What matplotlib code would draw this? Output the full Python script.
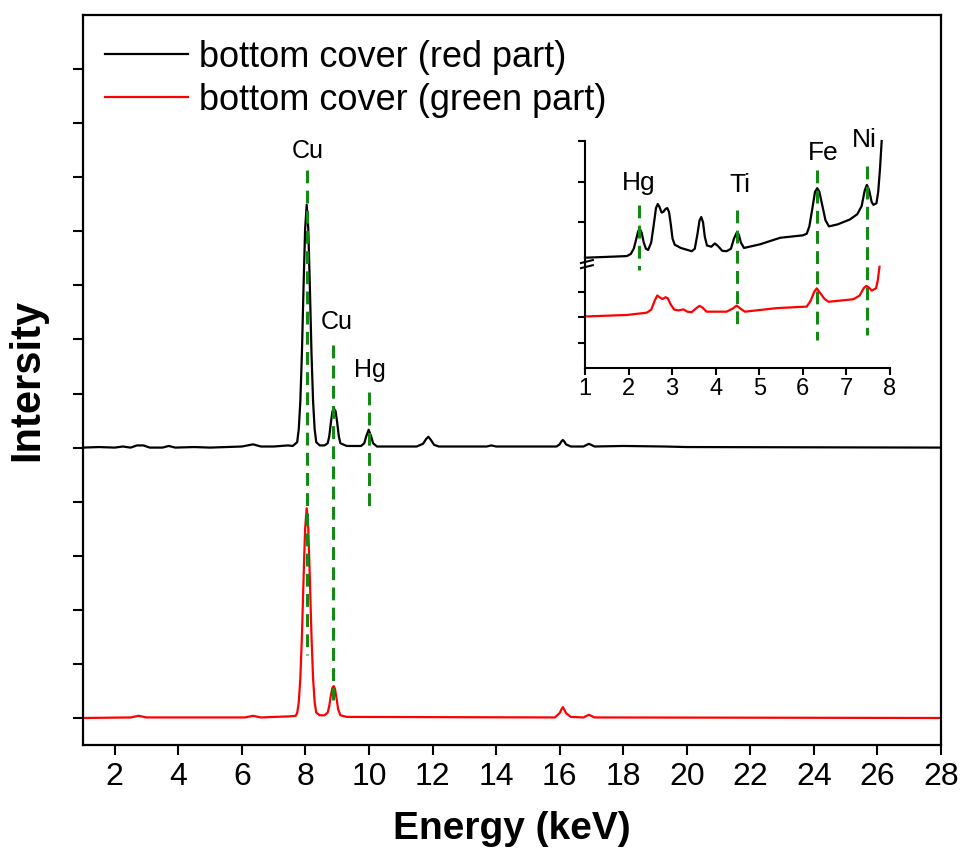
import matplotlib
matplotlib.use("Agg")
import matplotlib.pyplot as plt

plt.rcParams['font.family'] = ['Liberation Sans', 'DejaVu Sans']

# main spectra (energy keV, intensity, arbitrary units; black is offset by 5)
e_red_part = [1.0, 1.5, 2.0, 2.25, 2.5, 2.7, 2.9, 3.1, 3.5, 3.7, 3.9, 4.5, 5.0, 5.5, 6.0,
              6.35, 6.6, 7.0, 7.45, 7.6, 7.74, 7.79, 7.84, 7.89, 7.94, 7.99, 8.04, 8.09,
              8.14, 8.19, 8.24, 8.29, 8.34, 8.45, 8.6, 8.7, 8.75, 8.8, 8.85, 8.9, 8.95,
              9.0, 9.05, 9.1, 9.3, 9.75, 9.85, 9.92, 9.99, 10.06, 10.13, 10.25, 11.5, 11.7,
              11.8, 11.87, 11.95, 12.05, 12.2, 13.7, 13.85, 14.0, 15.9, 16.0, 16.05, 16.1,
              16.15, 16.2, 16.35, 16.75, 16.92, 17.1, 18.0, 19.3, 20.0, 28.0]
i_red_part = [5.00, 5.01, 5.00, 5.02, 5.00, 5.04, 5.04, 5.00, 5.00, 5.03, 5.00, 5.01, 5.00,
              5.01, 5.02, 5.06, 5.02, 5.02, 5.04, 5.03, 5.10, 5.34, 5.86, 6.76, 7.96, 9.04,
              9.49, 9.04, 7.96, 6.76, 5.86, 5.34, 5.10, 5.04, 5.04, 5.08, 5.21, 5.46, 5.67,
              5.72, 5.67, 5.46, 5.21, 5.08, 5.03, 5.03, 5.08, 5.22, 5.33, 5.22, 5.08, 5.02,
              5.02, 5.07, 5.16, 5.20, 5.14, 5.05, 5.02, 5.02, 5.04, 5.02, 5.02, 5.06, 5.11,
              5.14, 5.11, 5.06, 5.02, 5.02, 5.07, 5.02, 5.03, 5.02, 5.01, 5.00]

e_green_part = [1.0, 2.5, 2.75, 3.0, 6.1, 6.35, 6.6, 7.5, 7.69, 7.74, 7.79, 7.84, 7.89, 7.94,
                7.99, 8.04, 8.09, 8.14, 8.19, 8.24, 8.29, 8.34, 8.45, 8.6, 8.7, 8.75, 8.8,
                8.85, 8.89, 8.93, 8.98, 9.03, 9.1, 9.3, 15.85, 16.0, 16.05, 16.1, 16.15,
                16.2, 16.35, 16.75, 16.92, 17.1, 28.0]
i_green_part = [0.00, 0.01, 0.04, 0.01, 0.01, 0.04, 0.01, 0.03, 0.04, 0.09, 0.29, 0.74, 1.52,
                2.56, 3.50, 3.88, 3.50, 2.56, 1.52, 0.74, 0.29, 0.10, 0.05, 0.05, 0.10, 0.22,
                0.42, 0.56, 0.59, 0.54, 0.36, 0.16, 0.05, 0.02, 0.01, 0.09, 0.15, 0.20, 0.15,
                0.09, 0.02, 0.01, 0.06, 0.01, 0.00]

# inset spectra, low energy region (black: upper broken segment, red: lower)
e_ins_black = [1.0, 1.5, 1.96, 2.05, 2.12, 2.18, 2.22, 2.26, 2.3, 2.35, 2.4, 2.45, 2.52,
               2.58, 2.63, 2.67, 2.71, 2.76, 2.8, 2.85, 2.89, 2.93, 2.97, 3.01, 3.06, 3.2,
               3.45, 3.52, 3.58, 3.63, 3.67, 3.71, 3.75, 3.8, 3.9, 3.98, 4.05, 4.15, 4.25,
               4.35, 4.42, 4.48, 4.53, 4.58, 4.65, 5.02, 5.48, 6.0, 6.09, 6.15, 6.22, 6.28,
               6.33, 6.38, 6.45, 6.52, 6.6, 6.8, 7.08, 7.25, 7.35, 7.42, 7.47, 7.52, 7.58,
               7.62, 7.69, 7.73, 7.77, 7.81]
i_ins_black = [1.13, 1.15, 1.17, 1.22, 1.35, 1.60, 1.78, 1.84, 1.75, 1.50, 1.35, 1.32, 1.50,
               1.95, 2.35, 2.45, 2.38, 2.24, 2.26, 2.33, 2.35, 2.25, 1.95, 1.60, 1.45, 1.37,
               1.29, 1.35, 1.70, 2.05, 2.13, 2.00, 1.65, 1.43, 1.40, 1.48, 1.42, 1.30, 1.29,
               1.35, 1.60, 1.74, 1.70, 1.50, 1.37, 1.46, 1.62, 1.68, 1.72, 1.90, 2.35, 2.75,
               2.84, 2.75, 2.40, 2.05, 1.90, 1.95, 2.07, 2.20, 2.40, 2.78, 2.92, 2.80, 2.50,
               2.43, 2.47, 2.75, 3.30, 4.00]
e_ins_red = [1.0, 1.96, 2.42, 2.52, 2.6, 2.66, 2.72, 2.78, 2.85, 2.9, 2.97, 3.05, 3.15,
             3.26, 3.35, 3.45, 3.55, 3.63, 3.7, 3.79, 4.25, 4.4, 4.48, 4.56, 4.67, 5.4,
             6.09, 6.18, 6.26, 6.32, 6.4, 6.5, 6.59, 7.16, 7.3, 7.4, 7.46, 7.53, 7.58,
             7.68, 7.72, 7.76]
i_ins_red = [2.03, 2.09, 2.18, 2.30, 2.65, 2.86, 2.78, 2.72, 2.79, 2.75, 2.50, 2.30, 2.27,
             2.31, 2.22, 2.20, 2.35, 2.45, 2.38, 2.22, 2.22, 2.35, 2.46, 2.35, 2.22, 2.36,
             2.42, 2.65, 3.00, 3.14, 2.95, 2.72, 2.61, 2.71, 2.85, 3.15, 3.24, 3.15, 3.05,
             3.14, 3.45, 3.99]

# element marker lines: (label, energy, y top, y bottom, label x, label y)
main_marks = [("Cu", 8.05, 10.13, 1.16, 8.08, 10.48),
              ("Cu", 8.88, 6.90, 0.33, 9.00, 7.33),
              ("Hg", 9.99, 6.03, 3.85, 10.03, 6.44)]
inset_marks = [("Hg", 2.25, 2.43, 0.83, 2.24, 2.97),
               ("Ti", 4.50, 2.30, -0.60, 4.56, 2.92),
               ("Fe", 6.33, 3.29, -0.89, 6.46, 3.70),
               ("Ni", 7.48, 3.39, -0.77, 7.40, 4.02)]

x_ticks = list(range(2, 29, 2))
inset_ticks = list(range(1, 9))
green = '#138a13'

fig = plt.figure(figsize=(9.64, 8.5), dpi=100)
ax = fig.add_axes([0.0861, 0.1235, 0.8900, 0.8589])
ax.plot(e_red_part, i_red_part, color='black', lw=1.6, label='bottom cover (red part)')
ax.plot(e_green_part, i_green_part, color='red', lw=1.6, label='bottom cover (green part)')
for lab, e, y0, y1, tx, ty in main_marks:
    ax.plot([e, e], [y0, y1], color=green, lw=2.2, dashes=(4.2, 2.4), zorder=3)
    ax.text(tx, ty, lab, fontsize=18, ha='center', va='center')

ax.set_xlim(1, 28)
ax.set_ylim(-0.5, 13.0)
ax.set_xticks(x_ticks)
ax.set_yticks(range(0, 13))
ax.set_yticklabels([])
ax.tick_params(direction='out', length=7, width=1.5, labelsize=23, pad=5)
for s in ax.spines.values():
    s.set_linewidth(1.6)
ax.set_xlabel('Energy (keV)', fontsize=28, fontweight='bold', labelpad=14)
ax.set_ylabel('Intersity', fontsize=30, fontweight='bold', labelpad=14)
ax.legend(loc='upper left', bbox_to_anchor=(0.026, 0.966), frameon=False, fontsize=26,
          handlelength=2.3, handletextpad=0.3, labelspacing=0.22, borderpad=0,
          borderaxespad=0)

# inset with broken y axis
ax_top = fig.add_axes([0.6068, 0.6906, 0.3164, 0.1435])
ax_bot = fig.add_axes([0.6068, 0.5671, 0.3164, 0.1235])
ax_top.plot(e_ins_black, i_ins_black, color='black', lw=1.6, clip_on=False)
ax_bot.plot(e_ins_red, i_ins_red, color='red', lw=1.6, clip_on=False)
for lab, e, y0, y1, tx, ty in inset_marks:
    ax_top.plot([e, e], [y0, y1], color=green, lw=2.2, dashes=(4.2, 2.4), clip_on=False,
                zorder=3)
    ax_top.text(tx, ty, lab, fontsize=19, ha='center', va='center')

for a in (ax_top, ax_bot):
    a.set_xlim(1, 8)
    a.patch.set_alpha(0)
    a.spines['top'].set_visible(False)
    a.spines['right'].set_visible(False)
    a.spines['left'].set_linewidth(1.5)
    a.spines['bottom'].set_linewidth(1.5)
    a.tick_params(direction='out', length=5, width=1.5, labelsize=17, pad=2)
    a.set_yticklabels([])
ax_top.set_ylim(1.0, 4.0)
ax_top.set_yticks([2, 3, 4])
ax_top.spines['bottom'].set_visible(False)
ax_top.tick_params(axis='x', bottom=False, labelbottom=False)
ax_bot.set_ylim(0, 4.14)
ax_bot.set_yticks([1, 2, 3])
ax_bot.set_xticks(inset_ticks)

# break marks on the inset y axis
for yb in (0.012, -0.030):
    ax_top.plot([-0.013, 0.026], [yb - 0.012, yb + 0.012], color='black', lw=1.5,
                transform=ax_top.transAxes, clip_on=False)

fig.savefig('out.png', dpi=100)
